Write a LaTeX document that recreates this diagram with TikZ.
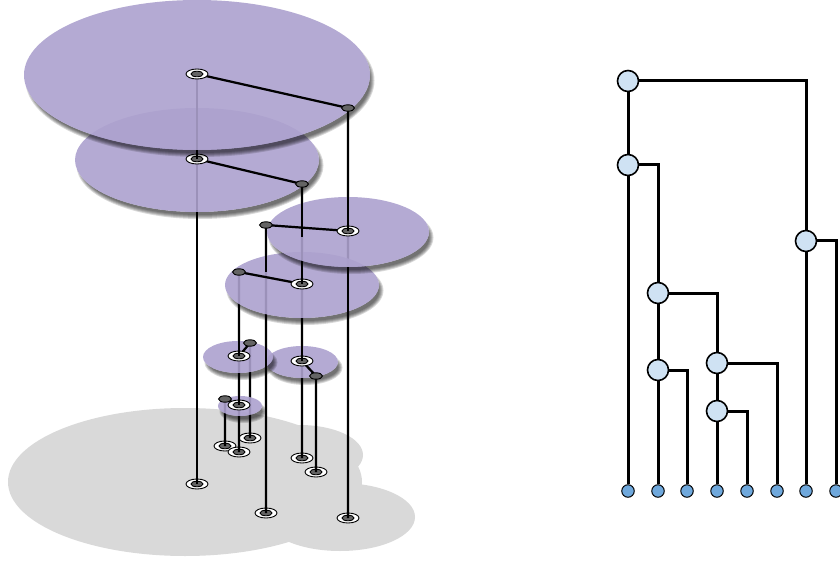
\documentclass[tikz,border=0pt]{standalone}
\usepackage{tikz}
\usetikzlibrary{arrows,positioning,shapes,calc}
\definecolor{plate}{RGB}{172,161,206}
\definecolor{ground}{RGB}{217,217,217}
\definecolor{mark}{RGB}{100,100,100}
\definecolor{inner}{RGB}{207,226,243}
\definecolor{tip}{RGB}{111,168,220}
\tikzset{
    %Define the markers on the plates
    rootring/.pic={
           \filldraw[fill=white, draw=black, line width=0.9pt] (0,0) ellipse [x radius=11pt, y radius=5pt];
           \filldraw[fill=mark, draw=black, line width=0.9pt] (0,0) ellipse [x radius=6pt, y radius=2.8pt];},
    linkring/.pic={
           \filldraw[fill=mark, draw=black, line width=0.9pt] (0,0) ellipse [x radius=6.5pt, y radius=3.2pt];},
    %Define style for the tree nodes
    inode/.style={
           circle,
           draw=black, line width=1.6pt,
           fill=inner,
           minimum size=21pt,
           inner sep=0pt},
    lnode/.style={
           circle,
           draw=black, line width=1pt,
           fill=tip,
           minimum size=12.5pt,
           inner sep=0pt},
    % Define line styles
    pil/.style={
           line width=2.2pt},
    tpil/.style={
           line width=3pt},
    platefill/.style={
           fill=plate,
           fill opacity=0.9}
}
% plate with its shadow: center, x radius, y radius
\newcommand\drawplate[3]{%
    \begin{scope}[even odd rule]
        \clip (-20,-20) rectangle (860,600) #1 ellipse [x radius=#2pt, y radius=#3pt];
        \foreach \g in {0,...,4}
            \fill[black, opacity=0.15] ($#1+(3,5.5)$) ellipse [x radius={#2pt+(\g-2.5)*1pt}, y radius={#3pt+(\g-2.5)*1pt}];
    \end{scope}
    \fill[platefill] #1 ellipse [x radius=#2pt, y radius=#3pt];
}

\begin{document}
\begin{tikzpicture}[x=1pt, y=-1pt]
    \useasboundingbox (0,0) rectangle (840,561);

    % GROUND
    \fill[ground] (185,482) ellipse [x radius=177pt, y radius=74pt];
    \fill[ground] (300,455) ellipse [x radius=63pt, y radius=30pt];
    \fill[ground] (340,517) ellipse [x radius=75pt, y radius=34pt];

    % POSITIONS
    \coordinate (rootA) at (197,74);
    \coordinate (linkA) at (348,108);
    \coordinate (rootB) at (197,159);
    \coordinate (linkB) at (302,184);
    \coordinate (rootC) at (348,231);
    \coordinate (linkC) at (266,225);
    \coordinate (rootD) at (302,284);
    \coordinate (linkD) at (239,272);
    \coordinate (rootE) at (239,356);
    \coordinate (linkE) at (250,343);
    \coordinate (rootF) at (302,361);
    \coordinate (linkF) at (316,376);
    \coordinate (rootG) at (239,405);
    \coordinate (linkG) at (225,399);
    \coordinate (leafA) at (197,484);
    \coordinate (leafB) at (266,513);
    \coordinate (leafC) at (348,518);
    \coordinate (leafD) at (302,458);
    \coordinate (leafE) at (316,472);
    \coordinate (leafF) at (225,446);
    \coordinate (leafG) at (239,452);
    \coordinate (leafH) at (250,438);

    \foreach \l in {A,...,H}
        \pic at (leaf\l) {rootring};

    % LINES, partly hidden by the plates
    \draw[pil] (rootA) -- (rootB) -- (leafA);
    \draw[pil] (rootA) -- (linkA) -- (rootC) -- (leafC);
    \draw[pil] (rootB) -- (linkB) -- (rootD) -- (rootF) -- (leafD);
    \draw[pil] (rootC) -- (linkC) -- (leafB);
    \draw[pil] (rootD) -- (linkD) -- (rootE) -- (rootG) -- (leafG);
    \draw[pil] (rootF) -- (linkF) -- (leafE);
    \draw[pil] (rootE) -- (linkE) -- (leafH);
    \draw[pil] (rootG) -- (linkG) -- (leafF);

    % PLATES, lowest first
    \drawplate{(240,406)}{22}{10}
    \draw[pil] (rootG) -- (linkG);
    \pic at (linkG) {linkring};
    \pic at (rootG) {rootring};
    \draw[pil] ($(rootG)+(0,-11)$) -- (rootG);

    \drawplate{(302,362)}{36}{16}
    \draw[pil] (rootF) -- (linkF);
    \pic at (linkF) {linkring};
    \pic at (rootF) {rootring};
    \draw[pil] ($(rootF)+(0,-16)$) -- (rootF);

    \drawplate{(238,357)}{35}{16}
    \draw[pil] (rootE) -- (linkE);
    \pic at (linkE) {linkring};
    \pic at (rootE) {rootring};
    \draw[pil] ($(rootE)+(0,-16)$) -- (rootE);
    \draw[pil] ($(linkC)+(0,113)$) -- ($(linkC)+(0,150)$);

    \drawplate{(302,285)}{77}{33}
    \draw[pil] (rootD) -- (linkD);
    \draw[pil] (linkC) -- ($(linkC)+(0,47)$);
    \draw[pil] ($(rootC)+(0,36)$) -- ($(rootC)+(0,88)$);
    \pic at (linkD) {linkring};
    \pic at (rootD) {rootring};
    \draw[pil] ($(rootD)+(0,-34)$) -- (rootD);

    \drawplate{(348,232)}{81}{35}
    \draw[pil] (rootC) -- (linkC);
    \draw[pil] (linkB) -- ($(linkB)+(0,53)$);
    \pic at (linkC) {linkring};
    \pic at (rootC) {rootring};

    \drawplate{(197,160)}{122}{52}
    \draw[pil] (rootB) -- (linkB);
    \draw[pil] ($(rootB)+(0,-55)$) -- (rootB);
    \pic at (linkB) {linkring};
    \pic at (rootB) {rootring};
    \draw[pil] ($(rootB)+(0,-10)$) -- (rootB);

    \drawplate{(197,75)}{173}{75}
    \draw[pil] (rootA) -- (linkA);
    \draw[pil] (linkA) -- (rootC);
    \pic at (linkA) {linkring};
    \pic at (rootA) {rootring};

    % TREE
    \node[inode] (treeA) at (628,81) {};
    \node[inode] (treeB) at (628,165) {};
    \node[inode] (treeC) at (806,241) {};
    \node[inode] (treeD) at (658,293) {};
    \node[inode] (treeE) at (658,370) {};
    \node[inode] (treeF) at (717,363) {};
    \node[inode] (treeG) at (717,411) {};
    \foreach \x [count=\i] in {628,658,687,717,747,777,806,836}
        \node[lnode] (tip\i) at (\x,491) {};

    \draw[tpil] (treeA) -| (treeC);
    \draw[tpil] (treeA) -- (treeB);
    \draw[tpil] (treeB) -| (treeD);
    \draw[tpil] (treeB) -- (tip1);
    \draw[tpil] (treeC) -- (tip7);
    \draw[tpil] (treeC) -| (tip8);
    \draw[tpil] (treeD) -| (treeF);
    \draw[tpil] (treeD) -- (treeE);
    \draw[tpil] (treeE) -- (tip2);
    \draw[tpil] (treeE) -| (tip3);
    \draw[tpil] (treeF) -| (tip6);
    \draw[tpil] (treeF) -- (treeG);
    \draw[tpil] (treeG) -- (tip4);
    \draw[tpil] (treeG) -| (tip5);
\end{tikzpicture}
\end{document}
